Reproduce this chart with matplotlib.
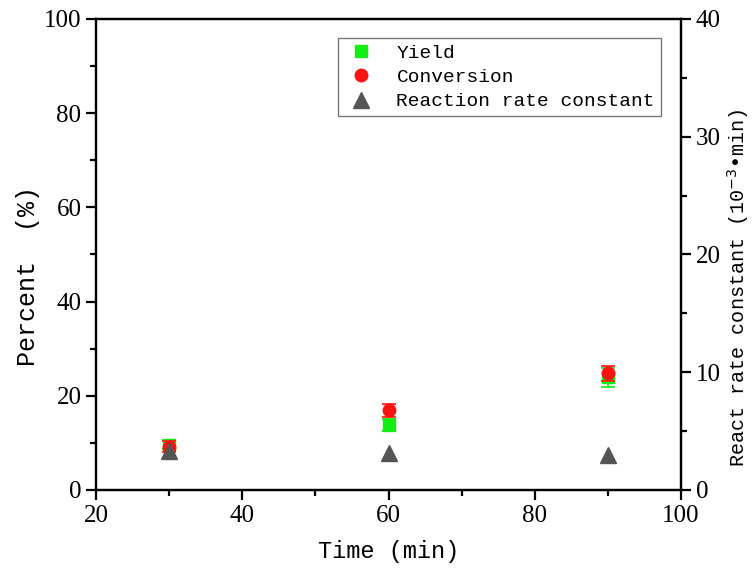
import numpy as np
import matplotlib
matplotlib.use("Agg")
from matplotlib import pyplot as plt
from matplotlib.lines import Line2D

# data
time_min = [30, 60, 90]
yield_pct = [9.6, 13.8, 23.9]
yield_err = [1.0, 1.3, 2.0]
conversion_pct = [9.2, 16.9, 24.8]
conversion_err = [1.2, 1.4, 1.6]
rate_const = [3.3, 3.1, 3.0]
series_names = ["Yield", "Conversion", "Reaction rate constant"]

mono = "Liberation Mono"
serif = "Liberation Serif"
green, red, grey = "#11ee11", "#ff1111", "#555555"

fig = plt.figure(figsize=(7.53, 5.7), dpi=100)
ax = fig.add_axes([0.1275, 0.1404, 0.7769, 0.8263])
ax2 = ax.twinx()

ax.errorbar(time_min, yield_pct, yerr=yield_err, fmt="s", color=green,
            ms=9, capsize=5, elinewidth=1.2, capthick=1.2, zorder=3)
ax.errorbar(time_min, conversion_pct, yerr=conversion_err, fmt="o", color=red,
            ms=9, capsize=5, elinewidth=1.2, capthick=1.2, zorder=4)
ax2.plot(time_min, rate_const, "^", color=grey, ms=12)

ax.set_xlim(20, 100)
ax.set_ylim(0, 100)
ax2.set_ylim(0, 40)
ax.set_xticks([20, 40, 60, 80, 100])
ax.set_xticks([30, 50, 70, 90], minor=True)
ax.set_yticks([0, 20, 40, 60, 80, 100])
ax.set_yticks([10, 30, 50, 70, 90], minor=True)
ax2.set_yticks([0, 10, 20, 30, 40])
ax2.set_yticks([5, 15, 25, 35], minor=True)

for a in (ax, ax2):
    for s in a.spines.values():
        s.set_linewidth(1.6)
    a.tick_params(which="major", direction="out", length=7, width=1.6)
    a.tick_params(which="minor", direction="out", length=4, width=1.6)
    for lab in a.get_xticklabels() + a.get_yticklabels():
        lab.set_fontfamily(serif)
        lab.set_fontsize(18)
ax.tick_params(top=False, right=False, which="both")

ax.set_xlabel("Time (min)", fontfamily=mono, fontsize=17, labelpad=10)
ax.set_ylabel("Percent  (%)", fontfamily=mono, fontsize=18)
ax.yaxis.set_label_coords(-0.095, 0.455)
ax2.set_ylabel("React rate constant (10$^{-3}$\u2022min)", fontfamily=mono,
               fontsize=14.5)
ax2.yaxis.set_label_coords(1.075, 0.43)

handles = [
    Line2D([], [], ls="none", marker="s", color=green, ms=9),
    Line2D([], [], ls="none", marker="o", color=red, ms=9),
    Line2D([], [], ls="none", marker="^", color=grey, ms=12),
]
leg = fig.legend(handles, series_names, loc="upper left",
                 bbox_to_anchor=(0.449, 0.933), borderaxespad=0,
                 prop={"family": mono, "size": 14}, frameon=True, fancybox=False,
                 edgecolor="#555555", handletextpad=0.9, borderpad=0.3,
                 labelspacing=0.35, handlelength=1.8)
leg.get_frame().set_linewidth(1.0)

fig.savefig("out.png", dpi=100)
